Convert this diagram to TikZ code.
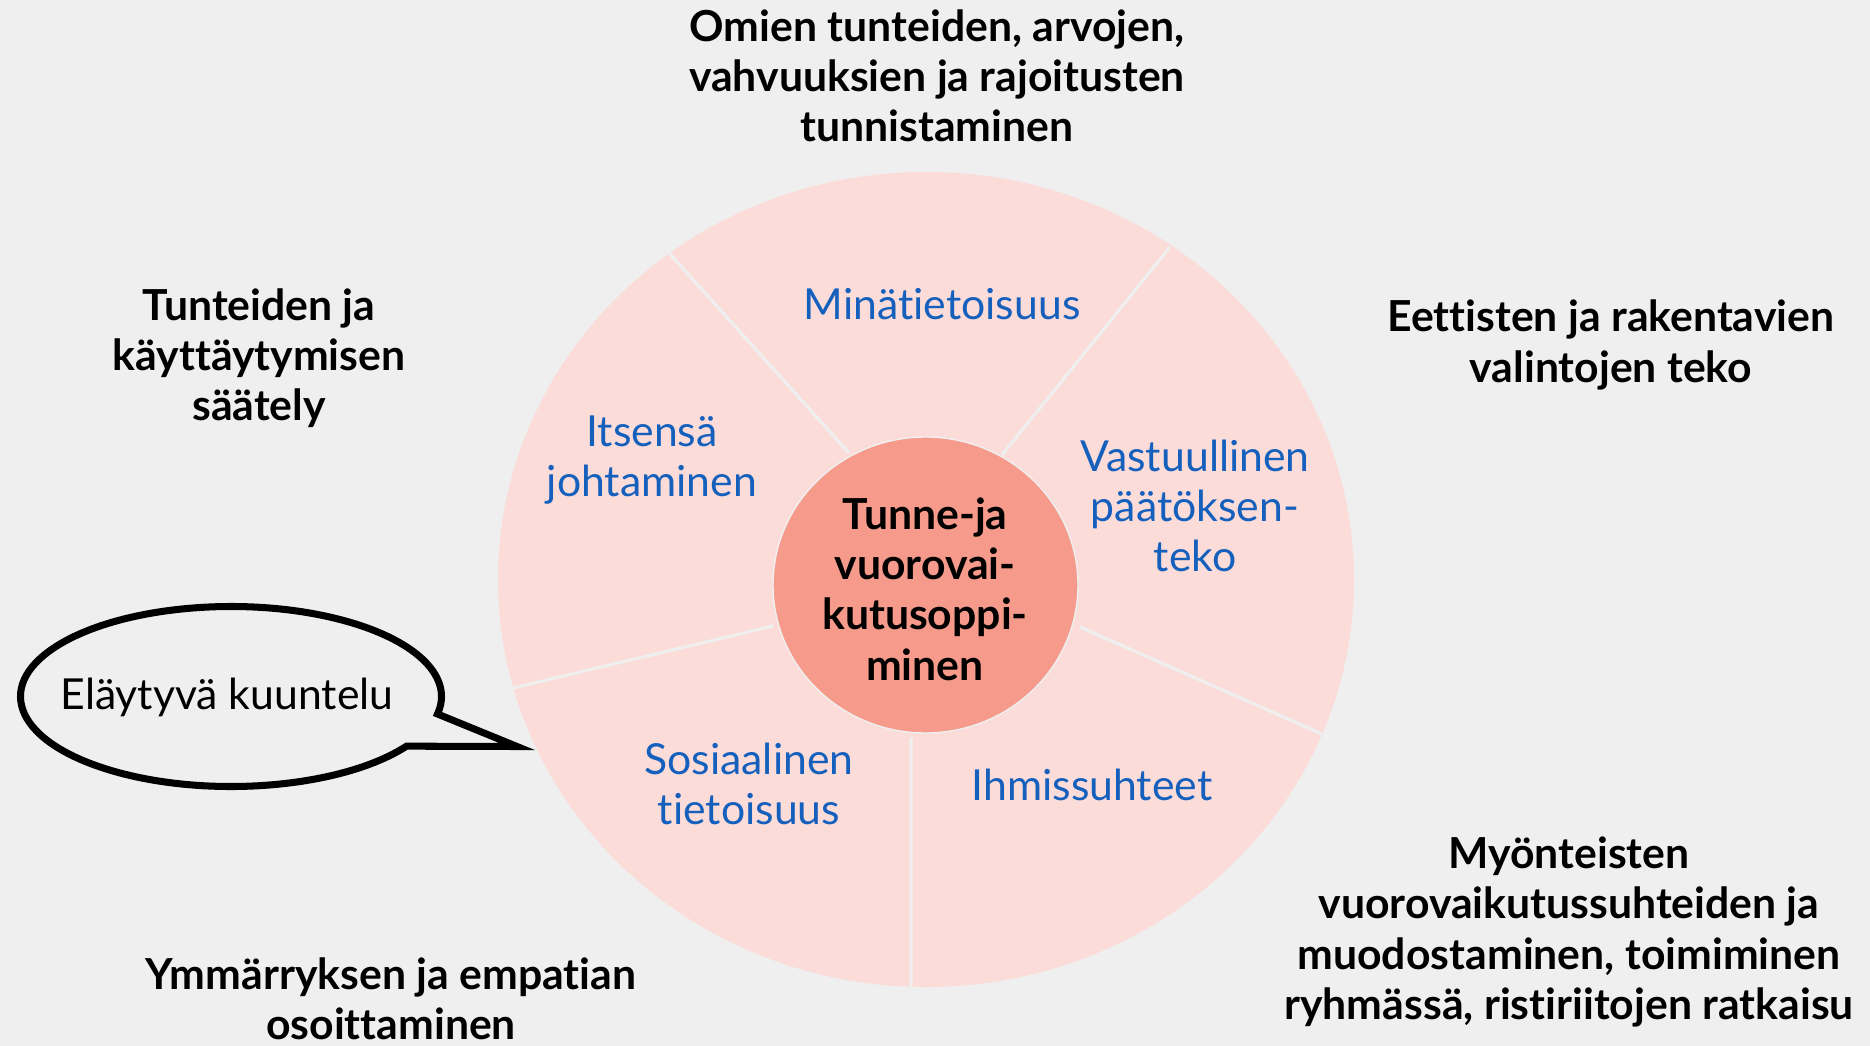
\documentclass[tikz,border=0pt]{standalone}
\usepackage{fontspec}
\setmainfont{Lato}[Ligatures=NoCommon]
\definecolor{bgcol}{HTML}{EFEFEF}
\definecolor{ringcol}{HTML}{FBDCD8}
\definecolor{corecol}{HTML}{F69A8B}
\definecolor{segblue}{HTML}{1560BD}
\tikzset{
  outlabel/.style={font=\bfseries\fontsize{12.15}{14.3}\selectfont, align=center, text=black, inner sep=0pt},
  seglabel/.style={font=\fontsize{12.15}{14.3}\selectfont, align=center, text=segblue, inner sep=0pt},
  divider/.style={draw=bgcol, line width=0.9pt},
}
\begin{document}
\begin{tikzpicture}[x=0.01cm, y=-0.01cm, line cap=butt, line join=round]
    \useasboundingbox (0,0) rectangle (1870,1046);
    \fill[bgcol] (0,0) rectangle (1870,1046);
    % wheel
    \fill[ringcol] (926,579.5) ellipse [x radius=428, y radius=407.5];
    \draw[divider] (669,253) -- (849,453)
                   (1170,247) -- (1002,455)
                   (1080,627) -- (1322,734)
                   (911,737) -- (911,987)
                   (773,626) -- (513,688);
    \fill[corecol, draw=bgcol, line width=0.4pt] (925.5,585) ellipse [x radius=152.5, y radius=148];
    \node[outlabel] (core) at (925,589) {Tunne-ja\\vuorovai-\\kutusoppi-\\minen};
    % segments
    \node[seglabel] (mina) at (942,304) {Minätietoisuus};
    \node[seglabel] (itse) at (652,460) {Itsensä\\johtaminen};
    \node[seglabel] (vastuu) at (1195,506) {Vastuullinen\\päätöksen-\\teko};
    \node[seglabel] (sosi) at (749,784) {Sosiaalinen\\tietoisuus};
    \node[seglabel] (ihmis) at (1092,785) {Ihmissuhteet};
    % outer texts
    \node[outlabel] (omien) at (937,76) {Omien tunteiden, arvojen,\\vahvuuksien ja rajoitusten\\tunnistaminen};
    \node[outlabel] (saately) at (259,358) {Tunteiden ja\\käyttäytymisen\\säätely};
    \node[outlabel] (eett) at (1611,345) {Eettisten ja rakentavien\\valintojen teko};
    \node[outlabel] (myont) at (1569,932) {Myönteisten\\vuorovaikutussuhteiden ja\\muodostaminen, toimiminen\\ryhmässä, ristiriitojen ratkaisu};
    \node[outlabel] (ymm) at (391,999) {Ymmärryksen ja empatian\\osoittaminen};
    % speech bubble
    \draw[line width=2pt, line join=miter, fill=bgcol] ([shift={(231,696.5)}]33.5:210.5 and 90)
        arc [start angle=33.5, end angle=371.2, x radius=210.5, y radius=90] -- (517,746.5) -- cycle;
    \node[font=\fontsize{12.15}{14.3}\selectfont, inner sep=0pt] (bubble) at (227,697) {Eläytyvä kuuntelu};
\end{tikzpicture}
\end{document}
